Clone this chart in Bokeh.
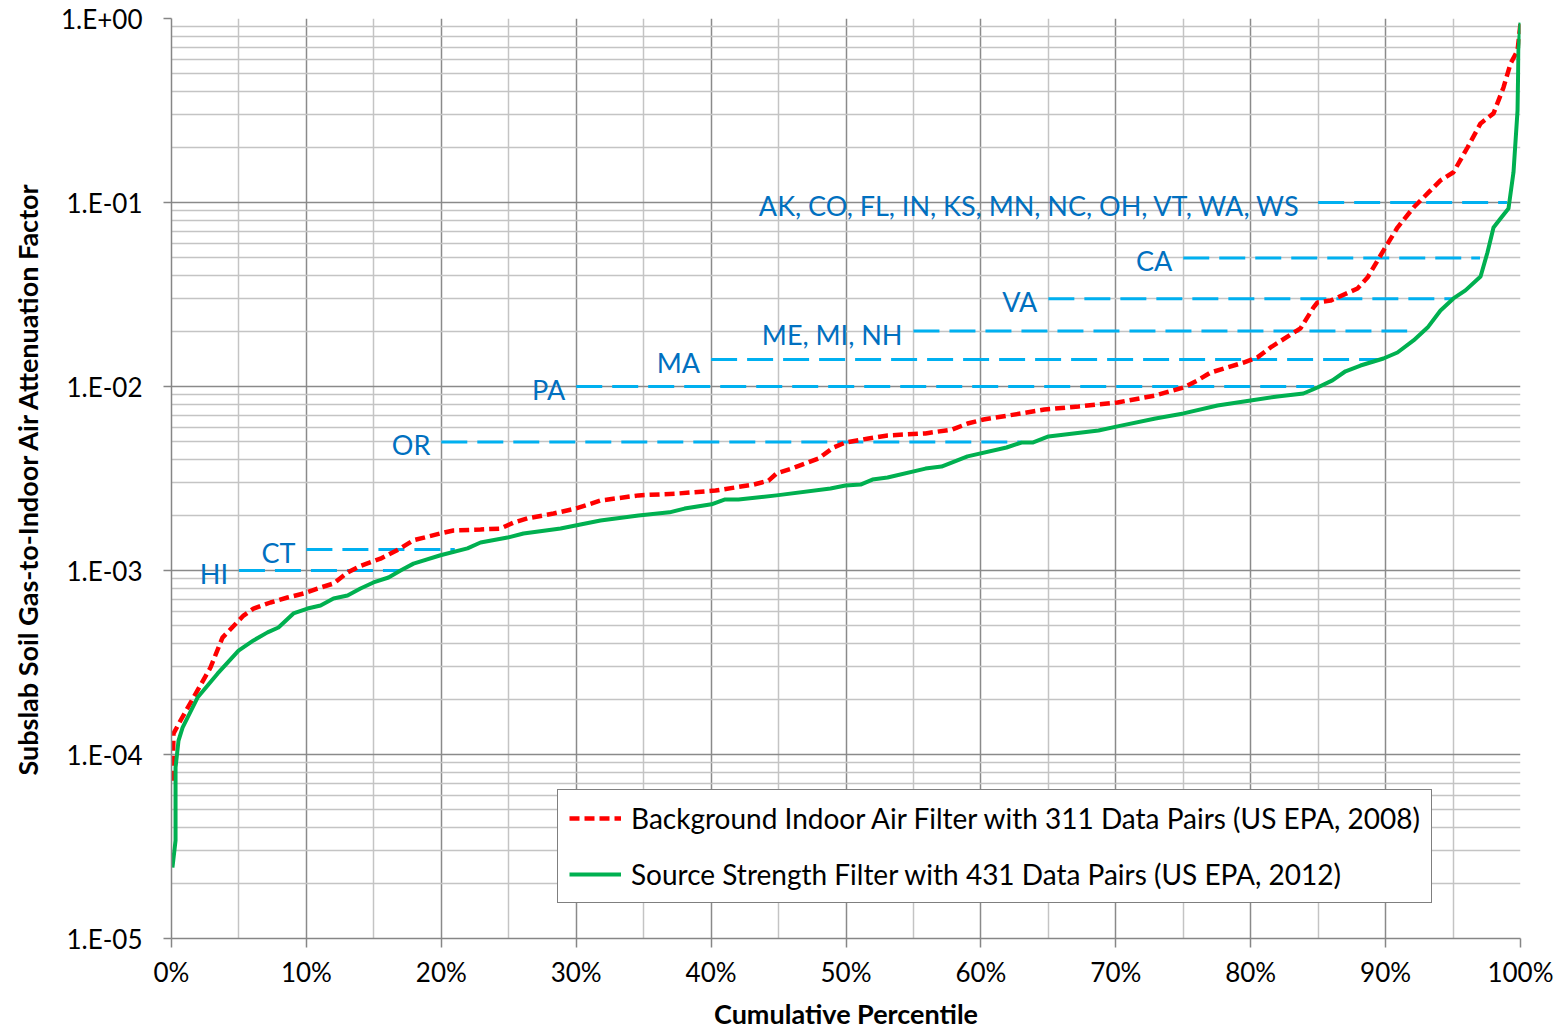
from bokeh.plotting import figure
from bokeh.models import (Range1d, FixedTicker, CustomJSTickFormatter, Legend,
                          LegendItem, ColumnDataSource)
from bokeh.core.properties import value
from bokeh.embed import file_html
from bokeh.resources import INLINE

# ---------------- data ----------------
# Background Indoor Air Filter (311 pairs, US EPA 2008): cumulative percentile (%), attenuation factor
bg_pct = [0.07, 0.15, 0.67, 1.63, 2.89, 3.78, 4.15, 5.34, 6.08, 7.34, 8.60, 9.79, 10.82,
          12.01, 13.05, 14.01, 15.49, 16.98, 17.94, 19.94, 20.90, 22.91, 24.39, 25.35,
          26.39, 28.32, 29.95, 31.80, 34.62, 37.51, 40.33, 43.14, 44.26, 44.85, 45.96,
          47.96, 49.07, 49.96, 51.67, 53.08, 55.89, 57.89, 59.01, 60.19, 63.01, 64.71,
          67.24, 70.13, 72.94, 75.02, 76.06, 77.02, 79.47, 80.50, 81.47, 83.69, 84.66,
          84.95, 85.92, 87.92, 88.66, 89.84, 90.88, 92.07, 93.11, 94.07, 95.03, 96.07,
          97.04, 98.00, 98.74, 99.26, 99.78, 100.0]
bg_af = [7.2e-5, 1.30e-4, 1.53e-4, 2.04e-4, 2.97e-4, 4.32e-4, 4.61e-4, 5.69e-4, 6.21e-4,
         6.70e-4, 7.13e-4, 7.50e-4, 7.98e-4, 8.50e-4, 9.75e-4, 1.06e-3, 1.16e-3, 1.32e-3,
         1.46e-3, 1.59e-3, 1.65e-3, 1.67e-3, 1.69e-3, 1.82e-3, 1.92e-3, 2.04e-3, 2.17e-3,
         2.40e-3, 2.56e-3, 2.62e-3, 2.72e-3, 2.93e-3, 3.08e-3, 3.37e-3, 3.58e-3, 4.06e-3,
         4.66e-3, 4.96e-3, 5.22e-3, 5.42e-3, 5.56e-3, 5.84e-3, 6.29e-3, 6.62e-3, 7.14e-3,
         7.50e-3, 7.79e-3, 8.19e-3, 8.94e-3, 9.88e-3, 1.08e-2, 1.19e-2, 1.35e-2, 1.44e-2,
         1.63e-2, 2.07e-2, 2.69e-2, 2.86e-2, 2.93e-2, 3.41e-2, 3.91e-2, 5.48e-2, 7.31e-2,
         9.39e-2, 0.112, 0.132, 0.146, 0.199, 0.269, 0.305, 0.422, 0.569, 0.670, 0.94]

# Source Strength Filter (431 pairs, US EPA 2012)
ss_pct = [0.07, 0.30, 0.30, 0.52, 0.82, 1.93, 3.41, 4.97, 6.08, 7.12, 7.93, 9.04, 10.08,
          11.05, 12.01, 13.05, 14.01, 14.97, 16.09, 16.98, 17.94, 19.94, 21.94, 22.91,
          24.91, 26.09, 28.84, 31.80, 34.62, 36.92, 38.03, 40.03, 40.99, 42.03, 44.85,
          48.85, 49.96, 51.08, 51.96, 53.08, 55.89, 57.08, 59.01, 61.90, 63.01, 63.83,
          65.01, 68.72, 70.13, 72.94, 75.02, 77.54, 79.99, 81.99, 83.91, 84.95, 86.06,
          87.03, 88.14, 89.84, 90.88, 92.07, 93.11, 94.07, 95.03, 95.92, 97.04, 97.55,
          98.00, 98.52, 99.11, 99.48, 99.78, 99.85, 100.0]
ss_af = [2.43e-5, 3.41e-5, 8.5e-5, 1.19e-4, 1.40e-4, 2.04e-4, 2.75e-4, 3.67e-4, 4.17e-4,
         4.61e-4, 4.90e-4, 5.84e-4, 6.21e-4, 6.45e-4, 7.05e-4, 7.31e-4, 7.98e-4, 8.61e-4,
         9.16e-4, 1.0e-3, 1.09e-3, 1.21e-3, 1.32e-3, 1.42e-3, 1.51e-3, 1.59e-3, 1.69e-3,
         1.87e-3, 1.99e-3, 2.07e-3, 2.17e-3, 2.29e-3, 2.43e-3, 2.43e-3, 2.56e-3, 2.79e-3,
         2.90e-3, 2.93e-3, 3.12e-3, 3.20e-3, 3.58e-3, 3.67e-3, 4.17e-3, 4.66e-3, 4.96e-3,
         4.96e-3, 5.35e-3, 5.77e-3, 6.07e-3, 6.70e-3, 7.14e-3, 7.89e-3, 8.39e-3, 8.83e-3,
         9.16e-3, 9.88e-3, 1.08e-2, 1.21e-2, 1.30e-2, 1.42e-2, 1.53e-2, 1.78e-2, 2.09e-2,
         2.59e-2, 3.01e-2, 3.33e-2, 3.96e-2, 5.35e-2, 7.31e-2, 8.19e-2, 9.27e-2, 0.146,
         0.316, 0.670, 0.95]

# State default attenuation factors (reference lines)
ref_labels = ["HI", "CT", "OR", "PA", "MA", "ME, MI, NH", "VA", "CA",
              "AK, CO, FL, IN, KS, MN,  NC, OH, VT, WA, WS"]
ref_af = [1e-3, 1.3e-3, 5e-3, 1e-2, 1.4e-2, 2e-2, 3e-2, 5e-2, 1e-1]
ref_start = [5, 10, 20, 30, 40, 55, 65, 75, 85]
ref_end = [17, 21, 63, 84.7, 89.6, 91.6, 95, 97, 99]

x_ticks = list(range(0, 101, 10))
x_minor = list(range(5, 100, 10))
x_tick_labels = [f"{t}%" for t in x_ticks]
y_ticks = [1e-5, 1e-4, 1e-3, 1e-2, 1e-1, 1.0]
y_minor = [m * 10.0 ** e for e in range(-5, 0) for m in range(2, 10)]

legend_labels = ["Background Indoor Air Filter with 311 Data Pairs (US EPA, 2008)",
                 "Source Strength Filter with 431 Data Pairs (US EPA, 2012)"]

FONT = "Lato"

# ---------------- figure ----------------
p = figure(width=1561, height=1033, x_range=Range1d(0, 100), y_range=Range1d(1e-5, 1),
           y_axis_type="log", output_backend="svg", toolbar_location=None,
           min_border_left=171, min_border_right=41, min_border_top=18,
           min_border_bottom=95)
p.outline_line_color = None
p.background_fill_color = "white"
p.border_fill_color = "white"

xt = FixedTicker(ticks=x_ticks, minor_ticks=x_minor)
yt = FixedTicker(ticks=y_ticks, minor_ticks=y_minor)
p.xaxis.ticker = xt
p.yaxis.ticker = yt
p.xgrid.ticker = xt
p.ygrid.ticker = yt

p.xaxis.major_label_overrides = {t: s for t, s in zip(x_ticks, x_tick_labels)}
p.yaxis.formatter = CustomJSTickFormatter(code="""
    const e = Math.round(Math.log10(tick));
    const a = Math.abs(e);
    return '1.E' + (e < 0 ? '-' : '+') + (a < 10 ? '0' : '') + a;
""")

for ax in (p.xaxis, p.yaxis):
    ax.axis_line_color = "#868686"
    ax.axis_line_width = 1.5
    ax.major_tick_line_color = "#868686"
    ax.major_tick_line_width = 1.5
    ax.major_tick_in = 0
    ax.minor_tick_in = 0
    ax.minor_tick_out = 0
    ax.major_label_text_font = FONT
    ax.major_label_text_font_size = "26px"
    ax.major_label_text_color = "black"
    ax.axis_label_text_font = FONT
    ax.axis_label_text_font_style = "bold"
    ax.axis_label_text_font_size = "27px"
    ax.axis_label_text_color = "black"

p.xaxis.major_tick_out = 9
p.xaxis.major_label_standoff = 8
p.xaxis.axis_label = "Cumulative Percentile"
p.xaxis.axis_label_standoff = 6
p.yaxis.major_tick_out = 8
p.yaxis.major_label_standoff = 21
p.yaxis.axis_label = "Subslab Soil Gas-to-Indoor Air Attenuation Factor"
p.yaxis.axis_label_standoff = 14

for g in (p.xgrid, p.ygrid):
    g.grid_line_color = "#8A8A8A"
    g.grid_line_width = 1.5
    g.minor_grid_line_color = "#C4C4C4"
    g.minor_grid_line_width = 1.5

# reference lines + labels
ref_src = ColumnDataSource(dict(x0=ref_start, x1=ref_end, y=ref_af, label=ref_labels))
p.segment(x0="x0", y0="y", x1="x1", y1="y", source=ref_src, line_color="#00B0F0",
          line_width=3, line_dash="26 10")
p.text(x="x0", y="y", text="label", source=ref_src, text_align="right",
       text_baseline="middle", x_offset=-11, y_offset=3, text_font=value(FONT),
       text_font_size="27px", text_color="#0070C0")

# curves
r_bg = p.line(bg_pct, bg_af, line_color="#FF0000", line_width=4.5, line_dash="10 5")
r_ss = p.line(ss_pct, ss_af, line_color="#00B050", line_width=4, line_join="round")

legend = Legend(items=[LegendItem(label=legend_labels[0], renderers=[r_bg]),
                       LegendItem(label=legend_labels[1], renderers=[r_ss])],
                location=(386, 35))
legend.border_line_color = "black"
legend.border_line_width = 1.5
legend.background_fill_color = "white"
legend.background_fill_alpha = 1.0
legend.label_text_font = FONT
legend.label_text_font_size = "28px"
legend.label_text_color = "black"
legend.glyph_width = 52
legend.glyph_height = 32
legend.label_height = 32
legend.label_standoff = 10
legend.padding = 11
legend.spacing = 22
legend.margin = 0
p.add_layout(legend)

open("out.html", "w").write(file_html(p, INLINE))
